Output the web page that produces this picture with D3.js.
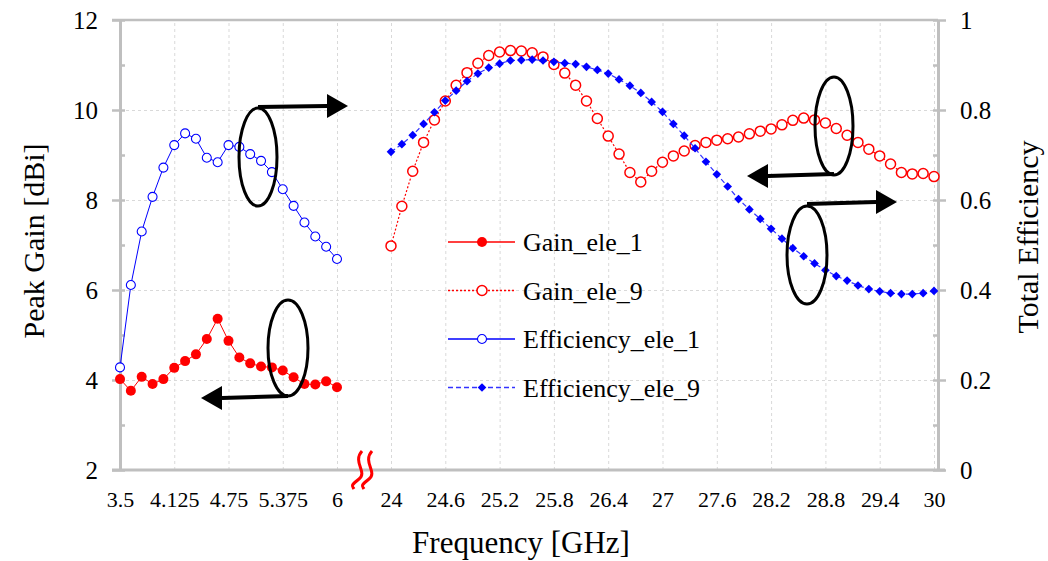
<!DOCTYPE html>
<html>
<head>
<meta charset="utf-8">
<script src="https://cdn.jsdelivr.net/npm/d3@7"></script>
<style>
  body { margin: 0; background: #fff; }
  svg, svg text { font-family: "Liberation Serif", Tinos, Times, "DejaVu Serif", serif; }
</style>
</head>
<body>
<div id="chart"></div>
<script>
// frequencies (GHz)
const freqLow = [3.5, 3.625, 3.75, 3.875, 4, 4.125, 4.25, 4.375, 4.5, 4.625, 4.75, 4.875, 5, 5.125, 5.25, 5.375, 5.5, 5.625, 5.75, 5.875, 6];
const freqHigh = [24, 24.12, 24.24, 24.36, 24.48, 24.6, 24.72, 24.84, 24.96, 25.08, 25.2, 25.32, 25.44, 25.56, 25.68, 25.8, 25.92, 26.04, 26.16, 26.28,
  26.4, 26.52, 26.64, 26.76, 26.88, 27, 27.12, 27.24, 27.36, 27.48, 27.6, 27.72, 27.84, 27.96, 28.08, 28.2, 28.32, 28.44, 28.56, 28.68,
  28.8, 28.92, 29.04, 29.16, 29.28, 29.4, 29.52, 29.64, 29.76, 29.88, 30];

// series
const gainEle1 = [4.02, 3.76, 4.07, 3.91, 4.02, 4.27, 4.42, 4.57, 4.91, 5.36, 4.87, 4.50, 4.37, 4.30, 4.28, 4.21, 4.06, 3.91, 3.90, 3.97, 3.84];
const effEle1 = [0.228, 0.411, 0.530, 0.607, 0.672, 0.722, 0.748, 0.736, 0.694, 0.684, 0.722, 0.718, 0.702, 0.687, 0.662, 0.624, 0.587, 0.550, 0.519, 0.496, 0.469];
const gainEle9 = [6.98, 7.86, 8.64, 9.28, 9.78, 10.20, 10.55, 10.83, 11.04, 11.21, 11.29, 11.32, 11.31, 11.27, 11.18, 11.01, 10.82, 10.55, 10.20, 9.81,
  9.42, 9.02, 8.61, 8.40, 8.64, 8.84, 8.98, 9.09, 9.21, 9.28, 9.33, 9.36, 9.40, 9.47, 9.53, 9.58, 9.67, 9.77, 9.82, 9.78,
  9.71, 9.59, 9.44, 9.28, 9.13, 8.98, 8.80, 8.61, 8.58, 8.59, 8.52];
const effEle9 = [0.707, 0.724, 0.744, 0.769, 0.795, 0.821, 0.843, 0.864, 0.881, 0.894, 0.903, 0.910, 0.911, 0.912, 0.910, 0.907, 0.904, 0.902, 0.896, 0.889,
  0.881, 0.868, 0.854, 0.838, 0.818, 0.796, 0.769, 0.743, 0.715, 0.685, 0.657, 0.630, 0.602, 0.579, 0.558, 0.536, 0.514, 0.493, 0.475, 0.459,
  0.444, 0.431, 0.421, 0.410, 0.402, 0.397, 0.393, 0.391, 0.391, 0.393, 0.398];

// ticks
const xTicks = [3.5, 4.125, 4.75, 5.375, 6, 24, 24.6, 25.2, 25.8, 26.4, 27, 27.6, 28.2, 28.8, 29.4, 30];
const gainTicks = [2, 4, 6, 8, 10, 12];
const effTicks = [0, 0.2, 0.4, 0.6, 0.8, 1];

const width = 1048, height = 561;
const pLeft = 120, pRight = 938, pTop = 20, pBottom = 470;
const serif = '"Liberation Serif", Tinos, Times, "DejaVu Serif", serif';

const svg = d3.select('#chart').append('svg')
  .attr('width', width)
  .attr('height', height);

// broken category-like x axis: two linear pieces
const x = d3.scaleLinear()
  .domain([3.5, 6, 24, 30])
  .range([pLeft, 337, 391, 934]);
const yG = d3.scaleLinear().domain([2, 12]).range([pBottom, pTop]);
const yE = d3.scaleLinear().domain([0, 1]).range([pBottom, pTop]);

const axisGray = '#bfbfbf';
const gridGray = '#d9d9d9';

// grid
svg.append('g')
  .attr('transform', `translate(${pLeft},0)`)
  .call(d3.axisLeft(yG).tickValues([4, 6, 8, 10]).tickSize(-(pRight - pLeft)).tickFormat(''))
  .call(g => g.select('.domain').remove())
  .selectAll('line').attr('stroke', gridGray).attr('stroke-dasharray', '3,3');

svg.append('g')
  .attr('transform', `translate(0,${pBottom})`)
  .call(d3.axisBottom(x).tickValues(xTicks.slice(1)).tickSize(-(pBottom - pTop)).tickFormat(''))
  .call(g => g.select('.domain').remove())
  .selectAll('line').attr('stroke', gridGray).attr('stroke-dasharray', '3,3');

// frame top line
svg.append('line')
  .attr('x1', pLeft - 8).attr('x2', pRight)
  .attr('y1', pTop).attr('y2', pTop)
  .attr('stroke', axisGray).attr('stroke-width', 2.5);

// left axis
const gL = svg.append('g')
  .attr('transform', `translate(${pLeft},0)`)
  .call(d3.axisLeft(yG).tickValues(gainTicks).tickSize(8).tickSizeOuter(0).tickPadding(14));
gL.attr('font-family', serif);
gL.select('.domain').attr('stroke', axisGray).attr('stroke-width', 3);
gL.selectAll('.tick line').attr('stroke', axisGray).attr('stroke-width', 2.5);
gL.selectAll('text').attr('font-size', 25).attr('fill', '#000');
svg.append('g')
  .attr('transform', `translate(${pLeft},0)`)
  .call(d3.axisRight(yG).tickValues(d3.range(2, 13, 1)).tickSize(5).tickFormat(''))
  .call(g => g.select('.domain').remove())
  .selectAll('line').attr('stroke', axisGray).attr('stroke-width', 2.5);

// right axis
const gR = svg.append('g')
  .attr('transform', `translate(${pRight},0)`)
  .call(d3.axisRight(yE).tickValues(effTicks).tickSize(8).tickSizeOuter(0).tickPadding(14).tickFormat(d3.format('')));
gR.attr('font-family', serif);
gR.select('.domain').attr('stroke', axisGray).attr('stroke-width', 3);
gR.selectAll('.tick line').attr('stroke', axisGray).attr('stroke-width', 2.5);
gR.selectAll('text').attr('font-size', 25).attr('fill', '#000');
svg.append('g')
  .attr('transform', `translate(${pRight},0)`)
  .call(d3.axisLeft(yE).tickValues(d3.range(0, 1.01, 0.1)).tickSize(5).tickFormat(''))
  .call(g => g.select('.domain').remove())
  .selectAll('line').attr('stroke', axisGray).attr('stroke-width', 2.5);

// bottom axis
svg.append('line')
  .attr('x1', pLeft - 8).attr('x2', pRight + 7)
  .attr('y1', pBottom).attr('y2', pBottom)
  .attr('stroke', axisGray).attr('stroke-width', 3);
const gB = svg.append('g')
  .attr('transform', `translate(0,${pBottom})`)
  .call(d3.axisBottom(x).tickValues(xTicks).tickSize(0).tickPadding(21).tickFormat(d => String(d)));
gB.attr('font-family', serif);
gB.select('.domain').remove();
gB.selectAll('text').attr('font-size', 22).attr('fill', '#000');

// axis break mark
[0, 10].forEach(dx => {
  svg.append('path')
    .attr('d', `M${362 + dx},451 C${352 + dx},462 ${368 + dx},472 ${359 + dx},479 S${352 + dx},486 ${354 + dx},489`)
    .attr('fill', 'none').attr('stroke', '#ff0000').attr('stroke-width', 3);
});

// titles
svg.append('text')
  .attr('x', 521).attr('y', 553)
  .attr('text-anchor', 'middle')
  .attr('font-family', serif)
  .attr('font-size', 31)
  .text('Frequency [GHz]');
svg.append('text')
  .attr('transform', 'translate(44,241) rotate(-90)')
  .attr('text-anchor', 'middle')
  .attr('font-family', serif)
  .attr('font-size', 30)
  .text('Peak Gain [dBi]');
svg.append('text')
  .attr('transform', 'translate(1038,237) rotate(-90)')
  .attr('text-anchor', 'middle')
  .attr('font-family', serif)
  .attr('font-size', 30)
  .text('Total Efficiency');

// series
const series = [
  { name: 'Gain_ele_1', f: freqLow, v: gainEle1, y: yG, color: '#ff0000', dash: null, lw: 1, marker: 'dot' },
  { name: 'Gain_ele_9', f: freqHigh, v: gainEle9, y: yG, color: '#ff0000', dash: '2,2', lw: 1.2, marker: 'ring' },
  { name: 'Efficiency_ele_1', f: freqLow, v: effEle1, y: yE, color: '#0000ff', dash: null, lw: 1, marker: 'ringThin' },
  { name: 'Efficiency_ele_9', f: freqHigh, v: effEle9, y: yE, color: '#3333ff', dash: '5,3', lw: 1.2, marker: 'diamond' }
];

const diamond = d3.symbol().type(d3.symbolDiamond2).size(48);

function drawMarker(sel, s) {
  if (s.marker === 'dot') {
    sel.append('circle').attr('r', 5).attr('fill', '#ff0000');
  } else if (s.marker === 'ring') {
    sel.append('circle').attr('r', 5).attr('fill', '#fff').attr('stroke', '#ff0000').attr('stroke-width', 1.5);
  } else if (s.marker === 'ringThin') {
    sel.append('circle').attr('r', 4.5).attr('fill', '#fff').attr('stroke', '#0000ff').attr('stroke-width', 1.1);
  } else {
    sel.append('path').attr('d', diamond()).attr('fill', '#0000ff');
  }
}

// draw order: lines first, then markers (diamonds on top)
const order = [2, 0, 1, 3];
order.forEach(i => {
  const s = series[i];
  const pts = s.f.map((f, k) => [x(f), s.y(s.v[k])]);
  svg.append('path')
    .attr('d', d3.line()(pts))
    .attr('fill', 'none')
    .attr('stroke', s.color)
    .attr('stroke-width', s.lw)
    .attr('stroke-dasharray', s.dash);
  svg.append('g').selectAll('g')
    .data(pts)
    .enter()
    .append('g')
    .attr('transform', d => `translate(${d[0]},${d[1]})`)
    .each(function () { drawMarker(d3.select(this), s); });
});

// legend
const legend = svg.append('g').attr('transform', 'translate(448,242)');
series.forEach((s, i) => {
  const row = legend.append('g').attr('transform', `translate(0,${i * 48.5})`);
  row.append('line')
    .attr('x1', 0).attr('x2', 67)
    .attr('stroke', s.color)
    .attr('stroke-width', s.lw + 0.3)
    .attr('stroke-dasharray', s.dash);
  drawMarker(row.append('g').attr('transform', 'translate(34,0)'), s);
  row.append('text')
    .attr('x', 75).attr('y', 9)
    .attr('font-family', serif)
    .attr('font-size', 26)
    .text(s.name);
});

// callouts (ellipse + arrow)
const callouts = [
  { cx: 258, cy: 157, rx: 19, ry: 49, x1: 258, y1: 107, x2: 348, y2: 106 },
  { cx: 288, cy: 348, rx: 20, ry: 48, x1: 288, y1: 396, x2: 201, y2: 398 },
  { cx: 834, cy: 126, rx: 19, ry: 49, x1: 834, y1: 174, x2: 747, y2: 176 },
  { cx: 807, cy: 255, rx: 20, ry: 49, x1: 807, y1: 204, x2: 897, y2: 202 }
];
callouts.forEach(c => {
  svg.append('ellipse')
    .attr('cx', c.cx).attr('cy', c.cy).attr('rx', c.rx).attr('ry', c.ry)
    .attr('fill', 'none').attr('stroke', '#000').attr('stroke-width', 3);
  const dir = Math.sign(c.x2 - c.x1);
  const base = c.x2 - dir * 21;
  svg.append('line')
    .attr('x1', c.x1).attr('y1', c.y1).attr('x2', base).attr('y2', c.y2)
    .attr('stroke', '#000').attr('stroke-width', 4);
  svg.append('path')
    .attr('d', `M${c.x2},${c.y2} L${base},${c.y2 - 12} L${base},${c.y2 + 12} Z`)
    .attr('fill', '#000');
});
</script>
</body>
</html>
